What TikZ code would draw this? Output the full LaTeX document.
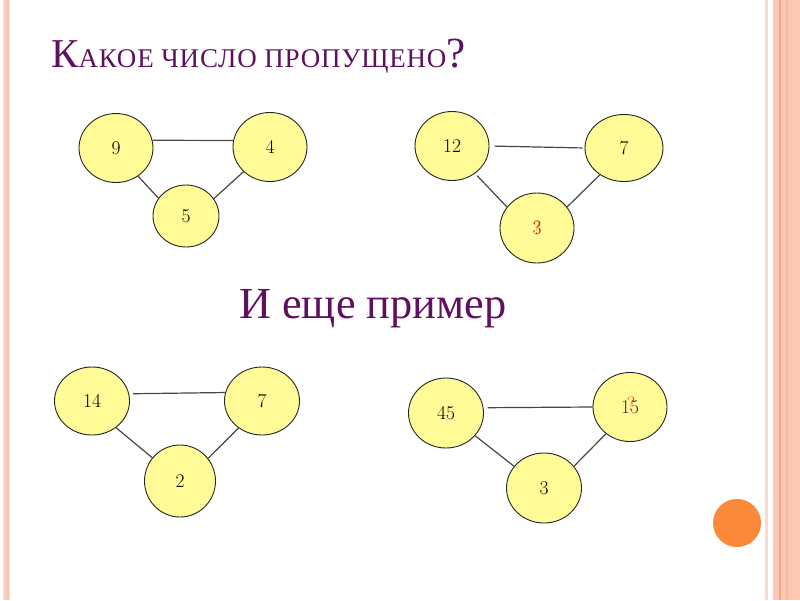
\documentclass[tikz,border=0pt]{standalone}
\usepackage{fontspec}
\newfontfamily\rufont{Liberation Serif}
\newfontfamily\rufontsc[LetterSpace=3]{Liberation Serif}
\usetikzlibrary{shapes.geometric}
\definecolor{nodefill}{RGB}{255,251,150}
\definecolor{titlepurple}{RGB}{96,16,96}
\definecolor{bandlight}{RGB}{253,218,204}
\definecolor{bandpink}{RGB}{251,200,180}
\definecolor{banddark}{RGB}{242,168,136}
\definecolor{dotorange}{RGB}{250,137,58}
\definecolor{edgegray}{RGB}{70,70,70}
\definecolor{answerred}{RGB}{230,30,30}
\definecolor{qmark}{RGB}{170,30,40}
\definecolor{numpurple}{RGB}{100,20,70}
\definecolor{qorange}{RGB}{235,70,30}
\begin{document}
\begin{tikzpicture}[x=1pt,y=-1pt,
  num/.style={ellipse,draw=black!85,line width=0.9pt,fill=nodefill,inner sep=0pt,
    minimum width=74pt,minimum height=69pt,font=\fontsize{19.5}{19.5}\selectfont},
  overlay text/.style={inner sep=0pt,font=\fontsize{19.5}{19.5}\selectfont},
  edge/.style={draw=edgegray,line width=1.2pt},
  title text/.style={inner sep=0pt,anchor=base west,text=titlepurple}]
\useasboundingbox (0,0) rectangle (800,600);
\fill[white] (0,0) rectangle (800,600);
% left border
\fill[bandlight] (3,0) rectangle (10,600);
\fill[bandpink] (5,0) rectangle (8.5,600);
% right border
\fill[bandlight] (765,0) rectangle (768,600);
\fill[bandpink] (773,0) rectangle (800,600);
\fill[banddark] (778.5,0) rectangle (780.5,600);
\fill[banddark!80] (786,0) rectangle (788,600);
% orange dot
\fill[dotorange] (737,523) circle (24);
% titles
\node[title text] (title) at (51,67) {\rufont\fontsize{41}{41}\selectfont К\rufontsc\fontsize{27}{27}\selectfont АКОЕ ЧИСЛО ПРОПУЩЕНО\rufont\fontsize{43}{43}\selectfont ?};
\node[title text] (sub) at (239,318) {\rufont\fontsize{44.3}{44.3}\selectfont И еще пример};
% graph 1
\node[num] (a9) at (116,148) {9};
\node[num] (a4) at (270,147) {4};
\node[num,minimum width=66pt,minimum height=62pt] (a5) at (186,216) {5};
\draw[edge] (a9.12) -- (a4.170);
\draw[edge] (a9.-52) -- (a5.147);
\draw[edge] (a4.223) -- (a5.32);
% graph 2
\node[num] (b12) at (452,146) {12};
\node[num,minimum width=78pt,minimum height=67pt] (b7) at (624,148) {7};
\node[num,minimum height=70pt] (b3) at (537,228) {};
\node[overlay text,text=qmark] (b3q) at (b3.center) {?};
\node[overlay text,text=answerred] (b3a) at (b3.center) {3};
\draw[edge,shorten <=5pt,shorten >=2pt] (b12.east) -- (b7.west);
\draw[edge,shorten <=3pt] (b12.-50) -- (b3.145);
\draw[edge] (b7.228) -- (b3.35);
% graph 3
\node[num,minimum width=75pt,minimum height=68pt] (c14) at (92,401) {14};
\node[num,minimum width=75pt,minimum height=68pt] (c7) at (262,401) {7};
\node[num,minimum width=71pt,minimum height=72pt] (c2) at (180,481) {2};
\draw[edge,shorten <=4pt] (c14.11) -- (c7.167);
\draw[edge] (c14.-48) -- (c2.140);
\draw[edge] (c7.229) -- (c2.39);
% graph 4
\node[num,minimum width=75pt,minimum height=70pt] (d45) at (446,413) {45};
\node[num,minimum width=74pt,minimum height=69pt] (d15) at (630,407) {};
\node[overlay text,text=numpurple] (d15n) at (d15.center) {15};
\node[overlay text,text=qorange] (d15q) at ([xshift=1pt,yshift=3pt]d15.center) {?};
\node[num,minimum width=75pt,minimum height=70pt] (d3) at (544,488) {3};
\draw[edge,shorten <=4pt] (d45.8) -- (d15.180);
\draw[edge] (d45.-38) -- (d3.144);
\draw[edge] (d15.228) -- (d3.36);
\end{tikzpicture}
\end{document}
